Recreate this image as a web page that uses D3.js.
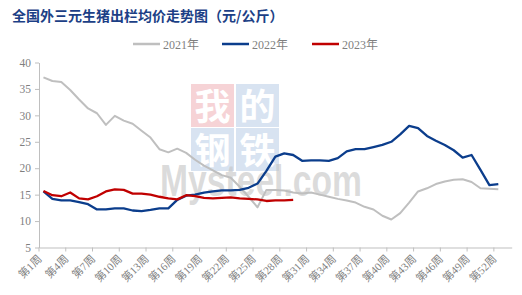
<!DOCTYPE html>
<html>
<head>
<meta charset="utf-8">
<script src="https://cdn.jsdelivr.net/npm/d3@7/dist/d3.min.js"></script>
<style>
    body { margin: 0; background: #fff; }
    svg { display: block; }
</style>
</head>
<body>
<div id="chart"></div>
<script>

// Data: weekly prices (元/公斤), week 1..52
var weeks = d3.range(1, 54);
var tickWeeks = [1, 4, 7, 10, 13, 16, 19, 22, 25, 28, 31, 34, 37, 40, 43, 46, 49, 52];
var yTicks = [5, 10, 15, 20, 25, 30, 35, 40];
var seriesNames = ["2021年", "2022年", "2023年"];

var price2021 = [37.2, 36.5, 36.3, 34.8, 33.0, 31.3, 30.4, 28.2, 29.9, 29.0,
                 28.4, 27.1, 25.8, 23.6, 23.0, 23.7, 22.9, 21.6, 20.5, 19.6,
                 18.7, 18.2, 16.5, 14.6, 12.6, 15.9, 15.9, 15.8, 15.4, 15.2,
                 15.4, 15.0, 14.6, 14.2, 13.9, 13.5, 12.7, 12.2, 11.0, 10.3,
                 11.5, 13.5, 15.6, 16.2, 17.0, 17.5, 17.8, 17.9, 17.4, 16.2,
                 16.1, 16.0];
var price2022 = [15.6, 14.2, 13.9, 13.9, 13.6, 13.2, 12.2, 12.2, 12.4, 12.4,
                 12.0, 11.9, 12.1, 12.4, 12.4, 14.0, 14.8, 15.0, 15.4, 15.6,
                 15.8, 15.8, 15.9, 16.3, 17.1, 19.5, 22.2, 22.8, 22.5, 21.4,
                 21.5, 21.5, 21.4, 21.9, 23.2, 23.6, 23.6, 24.0, 24.4, 25.0,
                 26.4, 28.0, 27.6, 26.1, 25.2, 24.4, 23.4, 22.0, 22.5, 19.7,
                 16.8, 17.0];
var price2023 = [15.7, 14.9, 14.7, 15.4, 14.3, 14.1, 14.7, 15.6, 16.0, 15.9,
                 15.2, 15.2, 15.0, 14.6, 14.3, 14.1, 14.9, 14.7, 14.4, 14.3,
                 14.4, 14.5, 14.3, 14.2, 14.1, 13.8, 13.9, 13.9, 14.0];

var colors = ["#bfbfbf", "#0b3d8c", "#c00000"];

var width = 522,
    height = 295,
    margin = {top: 62.5, right: 10.3, bottom: 47.5, left: 39};

var svg = d3.select("#chart").append("svg")
    .attr("width", width)
    .attr("height", height);

var x = d3.scaleBand()
    .domain(weeks)
    .range([margin.left, width - margin.right]);

var y = d3.scaleLinear()
    .domain([5, 40])
    .range([height - margin.bottom, margin.top]);

var bw = x.bandwidth();

// Title
svg.append("text")
    .attr("x", 12)
    .attr("y", 21)
    .attr("font-family", "'Noto Sans CJK SC', sans-serif")
    .attr("font-weight", "bold")
    .attr("font-size", 14)
    .attr("fill", "#1c3f86")
    .text("全国外三元生猪出栏均价走势图（元/公斤）");

// Watermark
var wm = svg.append("g").attr("class", "watermark");
var wmBoxes = [
    {t: "我", c: "#f6d3d6", bx: 191, by: 84},
    {t: "的", c: "#d8e3f1", bx: 236, by: 84},
    {t: "钢", c: "#d8e3f1", bx: 191, by: 128},
    {t: "铁", c: "#d8e3f1", bx: 236, by: 128}
];
wmBoxes.forEach(function (b) {
    wm.append("rect")
        .attr("x", b.bx).attr("y", b.by)
        .attr("width", 43).attr("height", 43)
        .attr("fill", b.c);
    wm.append("text")
        .attr("x", b.bx + 21.5).attr("y", b.by + 36)
        .attr("text-anchor", "middle")
        .attr("font-family", "'Noto Sans CJK SC', sans-serif")
        .attr("font-weight", "bold")
        .attr("font-size", 36)
        .attr("fill", "#fff")
        .text(b.t);
});
wm.append("text")
    .attr("x", 160)
    .attr("y", 196)
    .attr("font-family", "'Liberation Sans', Arial, sans-serif")
    .attr("font-weight", "bold")
    .attr("font-size", 44)
    .attr("textLength", 202)
    .attr("lengthAdjust", "spacingAndGlyphs")
    .attr("fill", "#c4c4c4")
    .attr("fill-opacity", 0.6)
    .text("Mysteel.com");

// Axes
var yAxis = svg.append("g")
    .attr("transform", "translate(" + margin.left + ",0)")
    .call(d3.axisLeft(y).tickValues(yTicks).tickSize(4).tickSizeOuter(0).tickPadding(4));

yAxis.selectAll("text")
    .attr("font-family", "'Liberation Serif', 'Times New Roman', serif")
    .attr("font-size", 11.5)
    .attr("fill", "#7f7f7f");

var xAxis = svg.append("g")
    .attr("transform", "translate(0," + (height - margin.bottom) + ")")
    .call(d3.axisBottom(x).tickValues(tickWeeks).tickSize(4).tickSizeOuter(0)
        .tickFormat(function (d) { return "第" + d + "周"; }));

// ticks sit between categories, labels stay on the category
xAxis.selectAll(".tick line").attr("x1", -bw / 2).attr("x2", -bw / 2);
xAxis.selectAll(".tick text")
    .attr("x", 0).attr("y", 0).attr("dy", 0)
    .attr("text-anchor", "end")
    .attr("transform", "translate(-1,12) rotate(-45)")
    .attr("font-family", "'Liberation Serif', 'Noto Sans CJK SC', serif")
    .attr("font-size", 11)
    .attr("fill", "#7f7f7f");

svg.selectAll(".domain, .tick line").attr("stroke", "#bfbfbf");

// Lines
var line = d3.line()
    .x(function (d, i) { return x(weeks[i]) + bw / 2; })
    .y(function (d) { return y(d); });

var allSeries = [price2021, price2022, price2023];
svg.append("g").selectAll("path.series")
    .data(allSeries)
    .enter()
    .append("path")
    .attr("class", "series")
    .attr("fill", "none")
    .attr("stroke", function (d, i) { return colors[i]; })
    .attr("stroke-width", function (d, i) { return i === 0 ? 2 : 2.3; })
    .attr("stroke-linejoin", "round")
    .attr("d", line);

// Legend
var legendX = [133, 222, 312];
var legend = svg.append("g").selectAll("g")
    .data(seriesNames)
    .enter()
    .append("g")
    .attr("transform", function (d, i) {
        return "translate(" + legendX[i] + ",44)";
    });

legend.append("line")
    .attr("x1", 0).attr("x2", 27)
    .attr("stroke", function (d, i) { return colors[i]; })
    .attr("stroke-width", 2.5);

legend.append("text")
    .attr("x", 30)
    .attr("y", 4.5)
    .attr("font-family", "'Liberation Serif', 'Noto Sans CJK SC', serif")
    .attr("font-size", 12)
    .attr("fill", "#7f7f7f")
    .text(function (d) { return d; });

</script>
</body>
</html>
